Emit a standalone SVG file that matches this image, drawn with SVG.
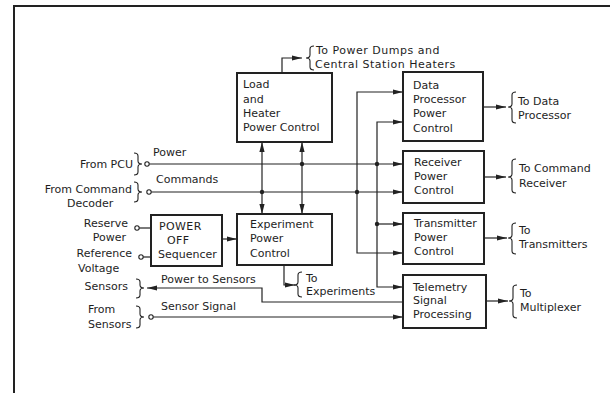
<svg xmlns="http://www.w3.org/2000/svg" width="610" height="393" viewBox="0 0 610 393">
  <defs>
    <marker id="arrow" viewBox="0 0 10 6" refX="10" refY="3" markerWidth="10" markerHeight="6" markerUnits="userSpaceOnUse" orient="auto">
      <path d="M0,0.4 L10,3 L0,5.6 Z" fill="#222"/>
    </marker>
    <marker id="arrow-start" viewBox="0 0 10 6" refX="0" refY="3" markerWidth="10" markerHeight="6" markerUnits="userSpaceOnUse" orient="auto">
      <path d="M10,0.4 L0,3 L10,5.6 Z" fill="#222"/>
    </marker>
  </defs>
  <style>
    .frame { fill: none; stroke: #222; stroke-width: 2; }
    .box { fill: #fff; stroke: #222; stroke-width: 2; }
    .wire { fill: none; stroke: #222; stroke-width: 1.2; }
    .brace { fill: none; stroke: #222; stroke-width: 1.1; }
    .term { fill: #fff; stroke: #222; stroke-width: 1.1; }
    .dot { fill: #222; }
    text { font-family: "DejaVu Sans", "Liberation Sans", sans-serif; font-size: 11px; fill: #1e1e1e; }
    .end { text-anchor: end; }
    .wide { letter-spacing: 0.5px; }
  </style>
  <rect width="610" height="393" fill="#fff"/>

  <!-- outer frame -->
  <path class="frame" d="M13,6 H610 M14,6 V393"/>

  <!-- connectors -->
  <g id="connectors">
    <!-- Load/heater output -->
    <path class="wire" d="M282,73 V58 H302" marker-end="url(#arrow)"/>
    <!-- power and command buses -->
    <path class="wire" d="M149.2,164 H403" marker-end="url(#arrow)"/>
    <path class="wire" d="M151.2,192 H403" marker-end="url(#arrow)"/>
    <!-- vertical links between load/heater and experiment control -->
    <path class="wire" d="M262,142 V214" marker-start="url(#arrow-start)" marker-end="url(#arrow)"/>
    <path class="wire" d="M302,142 V214" marker-start="url(#arrow-start)" marker-end="url(#arrow)"/>
    <!-- command riser -->
    <path class="wire" d="M357,192 V92 H403" marker-end="url(#arrow)"/>
    <path class="wire" d="M357,192 V253 H403" marker-end="url(#arrow)"/>
    <!-- power riser -->
    <path class="wire" d="M377,164 V122 H403" marker-end="url(#arrow)"/>
    <path class="wire" d="M377,164 V287 H403" marker-end="url(#arrow)"/>
    <path class="wire" d="M377,224 H403" marker-end="url(#arrow)"/>
    <!-- sequencer inputs and output -->
    <path class="wire" d="M139.2,228 H151"/>
    <path class="wire" d="M143.2,257 H151"/>
    <path class="wire" d="M222,239 H237" marker-end="url(#arrow)"/>
    <!-- experiment output -->
    <path class="wire" d="M284,265 V285 H295" marker-end="url(#arrow)"/>
    <!-- sensors -->
    <path class="wire" d="M403,302 H262 V288 H147" marker-end="url(#arrow)"/>
    <path class="wire" d="M153.2,317 H403" marker-end="url(#arrow)"/>
    <!-- outputs -->
    <path class="wire" d="M483,107 H506" marker-end="url(#arrow)"/>
    <path class="wire" d="M484,177 H506" marker-end="url(#arrow)"/>
    <path class="wire" d="M484,238 H507" marker-end="url(#arrow)"/>
    <path class="wire" d="M486,301 H508" marker-end="url(#arrow)"/>
    <!-- junctions -->
    <circle class="dot" cx="262" cy="192" r="2.2"/>
    <circle class="dot" cx="302" cy="164" r="2.2"/>
    <circle class="dot" cx="357" cy="192" r="2.2"/>
    <circle class="dot" cx="377" cy="164" r="2.2"/>
    <circle class="dot" cx="377" cy="224" r="2.2"/>
    <!-- terminals -->
    <circle class="term" cx="147" cy="164" r="2.2"/>
    <circle class="term" cx="149" cy="192" r="2.2"/>
    <circle class="term" cx="137" cy="228" r="2.2"/>
    <circle class="term" cx="141" cy="257" r="2.2"/>
    <circle class="term" cx="151" cy="317" r="2.2"/>
    <!-- line labels -->
    <text x="153" y="156">Power</text>
    <text x="156" y="183">Commands</text>
    <text x="161" y="283">Power to Sensors</text>
    <text x="161" y="310">Sensor Signal</text>
  </g>

  <!-- source labels with braces -->
  <g id="from-pcu">
    <text class="end" x="133" y="168">From PCU</text>
    <path class="brace" d="M134,153 Q138,153 138,156 V161 Q138,164 142,164 Q138,164 138,167 V172 Q138,175 134,175"/>
  </g>
  <g id="from-command-decoder">
    <text class="end" x="132" y="193">From Command</text>
    <text x="67" y="207">Decoder</text>
    <path class="brace" d="M134,182 Q138,182 138,185 V189 Q138,192 142,192 Q138,192 138,195 V199 Q138,202 134,202"/>
  </g>
  <g id="reserve-power">
    <text class="end" x="128" y="227">Reserve</text>
    <text class="end" x="126" y="241">Power</text>
  </g>
  <g id="reference-voltage">
    <text class="end" x="132" y="257">Reference</text>
    <text x="78" y="272">Voltage</text>
  </g>
  <g id="sensors">
    <text class="end" x="128" y="290">Sensors</text>
    <path class="brace" d="M136,279 Q140,279 140,282 V285 Q140,288 144,288 Q140,288 140,291 V295 Q140,298 136,298"/>
  </g>
  <g id="from-sensors">
    <text x="88" y="313">From</text>
    <text x="88" y="328">Sensors</text>
    <path class="brace" d="M136,306 Q140,306 140,309 V314 Q140,317 144,317 Q140,317 140,320 V325 Q140,328 136,328"/>
  </g>

  <!-- blocks -->
  <g id="load-heater-power-control">
    <rect class="box" x="237" y="73" width="95" height="69"/>
    <text x="243" y="88">Load</text>
    <text x="243" y="103">and</text>
    <text x="243" y="117">Heater</text>
    <text x="243" y="131">Power Control</text>
  </g>
  <g id="power-dumps-label">
    <path class="brace" d="M314,46 Q310,46 310,49 V55 Q310,58 306,58 Q310,58 310,61 V67 Q310,70 314,70"/>
    <text class="wide" x="316" y="54">To Power Dumps and</text>
    <text class="wide" x="315" y="68">Central Station Heaters</text>
  </g>
  <g id="power-off-sequencer">
    <rect class="box" x="151" y="215" width="71" height="51"/>
    <text x="159" y="230" letter-spacing="0.4">POWER</text>
    <text x="167" y="244" letter-spacing="0.4">OFF</text>
    <text x="158" y="258">Sequencer</text>
  </g>
  <g id="experiment-power-control">
    <rect class="box" x="237" y="214" width="95" height="51"/>
    <text x="250" y="228">Experiment</text>
    <text x="250" y="242">Power</text>
    <text x="250" y="257">Control</text>
  </g>
  <g id="experiments-label">
    <path class="brace" d="M302,272 Q298,272 298,275 V282 Q298,285 294,285 Q298,285 298,288 V294 Q298,297 302,297"/>
    <text x="306" y="282">To</text>
    <text x="306" y="295">Experiments</text>
  </g>
  <g id="data-processor-power-control">
    <rect class="box" x="403" y="72" width="80" height="69"/>
    <text x="413" y="89">Data</text>
    <text x="413" y="103">Processor</text>
    <text x="413" y="117">Power</text>
    <text x="413" y="132">Control</text>
  </g>
  <g id="data-processor-label">
    <path class="brace" d="M516,92 Q512,92 512,95 V104 Q512,107 508,107 Q512,107 512,110 V120 Q512,123 516,123"/>
    <text x="518" y="105">To Data</text>
    <text x="518" y="119">Processor</text>
  </g>
  <g id="receiver-power-control">
    <rect class="box" x="403" y="151" width="81" height="52"/>
    <text x="414" y="166">Receiver</text>
    <text x="414" y="180">Power</text>
    <text x="414" y="194">Control</text>
  </g>
  <g id="command-receiver-label">
    <path class="brace" d="M516,159 Q512,159 512,162 V174 Q512,177 508,177 Q512,177 512,180 V190 Q512,193 516,193"/>
    <text x="519" y="172">To Command</text>
    <text x="519" y="187">Receiver</text>
  </g>
  <g id="transmitter-power-control">
    <rect class="box" x="403" y="213" width="81" height="51"/>
    <text x="414" y="227">Transmitter</text>
    <text x="414" y="241">Power</text>
    <text x="414" y="255">Control</text>
  </g>
  <g id="transmitters-label">
    <path class="brace" d="M516,223 Q512,223 512,226 V235 Q512,238 508,238 Q512,238 512,241 V251 Q512,254 516,254"/>
    <text x="519" y="234">To</text>
    <text x="519" y="248">Transmitters</text>
  </g>
  <g id="telemetry-signal-processing">
    <rect class="box" x="403" y="275" width="83" height="53"/>
    <text x="413" y="291">Telemetry</text>
    <text x="413" y="304">Signal</text>
    <text x="413" y="318">Processing</text>
  </g>
  <g id="multiplexer-label">
    <path class="brace" d="M517,285 Q513,285 513,288 V298 Q513,301 509,301 Q513,301 513,304 V315 Q513,318 517,318"/>
    <text x="520" y="297">To</text>
    <text x="520" y="311">Multiplexer</text>
  </g>
</svg>
